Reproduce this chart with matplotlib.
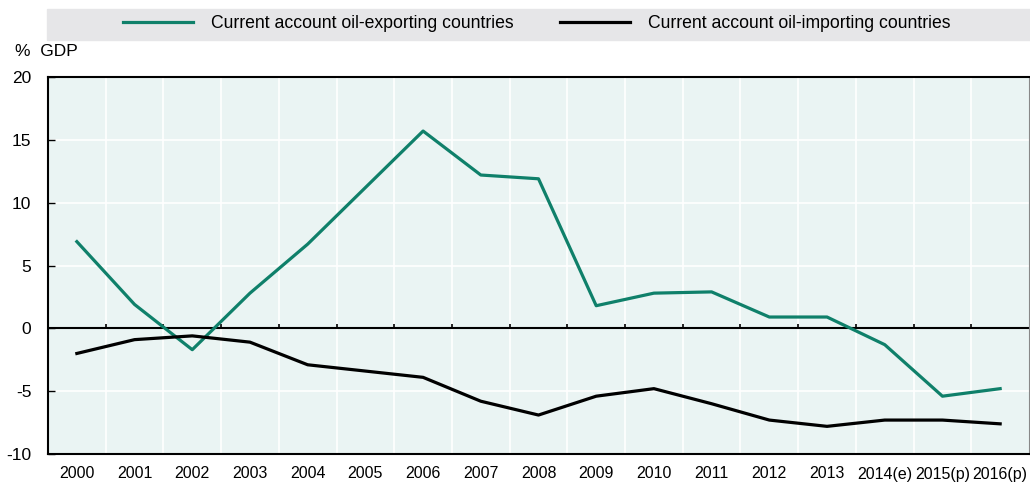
import numpy as np
import matplotlib
matplotlib.use("Agg")
import matplotlib.pyplot as plt
from matplotlib.patches import Rectangle

plt.rcParams['font.family'] = ['Liberation Sans Narrow', 'Liberation Sans', 'DejaVu Sans']

# data
years = ["2000", "2001", "2002", "2003", "2004", "2005", "2006", "2007", "2008",
         "2009", "2010", "2011", "2012", "2013", "2014(e)", "2015(p)", "2016(p)"]
oil_exp = [6.9, 1.9, -1.7, 2.8, 6.7, 11.2, 15.7, 12.2, 11.9,
           1.8, 2.8, 2.9, 0.9, 0.9, -1.3, -5.4, -4.8]
oil_imp = [-2.0, -0.9, -0.6, -1.1, -2.9, -3.4, -3.9, -5.8, -6.9,
           -5.4, -4.8, -6.0, -7.3, -7.8, -7.3, -7.3, -7.6]
yticks = [-10, -5, 0, 5, 10, 15, 20]

GREEN = "#0f806a"

fig = plt.figure(figsize=(10.30, 4.84), dpi=100)
ax = fig.add_axes([48/1030, 1 - 454/484, 981/1030, 377/484])
ax.set_facecolor("#eaf4f3")

x = np.arange(len(years))

# grid
for b in x[:-1] + 0.5:
    ax.axvline(b, color="white", lw=1.2, zorder=1)
for v in yticks:
    if v not in (-10, 0, 20):
        ax.axhline(v, color="white", lw=1.2, zorder=1)
ax.axhline(0, color="black", lw=1.5, zorder=2)
ax.vlines(x[:-1] + 0.5, 0, 0.35, color="black", lw=1.2, zorder=2)

l1, = ax.plot(x, oil_exp, color=GREEN, lw=2.3, zorder=3,
              label="Current account oil-exporting countries")
l2, = ax.plot(x, oil_imp, color="black", lw=2.3, zorder=3,
              label="Current account oil-importing countries")

ax.set_xlim(-0.5, len(years) - 0.5)
ax.set_ylim(-10, 20)
ax.set_yticks(yticks)
ax.set_yticklabels([str(v) for v in yticks], fontsize=12.5)
ax.set_xticks(x)
ax.set_xticklabels(years, fontsize=11.5)
ax.tick_params(axis="x", length=0, pad=9)
ax.tick_params(axis="y", direction="in", length=5, width=1, pad=12)

for s in ("left", "bottom", "top"):
    ax.spines[s].set_color("black")
    ax.spines[s].set_linewidth(1.5)
ax.spines["right"].set_color("#888888")
ax.spines["right"].set_linewidth(0.8)

fig.text(15/1030, 1 - 52/484, "%  GDP", fontsize=12.5, va="center", ha="left")

# legend band
fig.patches.append(Rectangle((47/1030, 1 - 40/484), 983/1030, 31/484,
                             transform=fig.transFigure, color="#e6e6e8", zorder=0))
fig.legend(handles=[l1, l2], loc="center", bbox_to_anchor=(0.521, 1 - 24/484),
           ncol=2, frameon=False, fontsize=12.7, handlelength=4.0,
           columnspacing=2.6, handletextpad=1.0)

fig.savefig("out.png", dpi=100)
